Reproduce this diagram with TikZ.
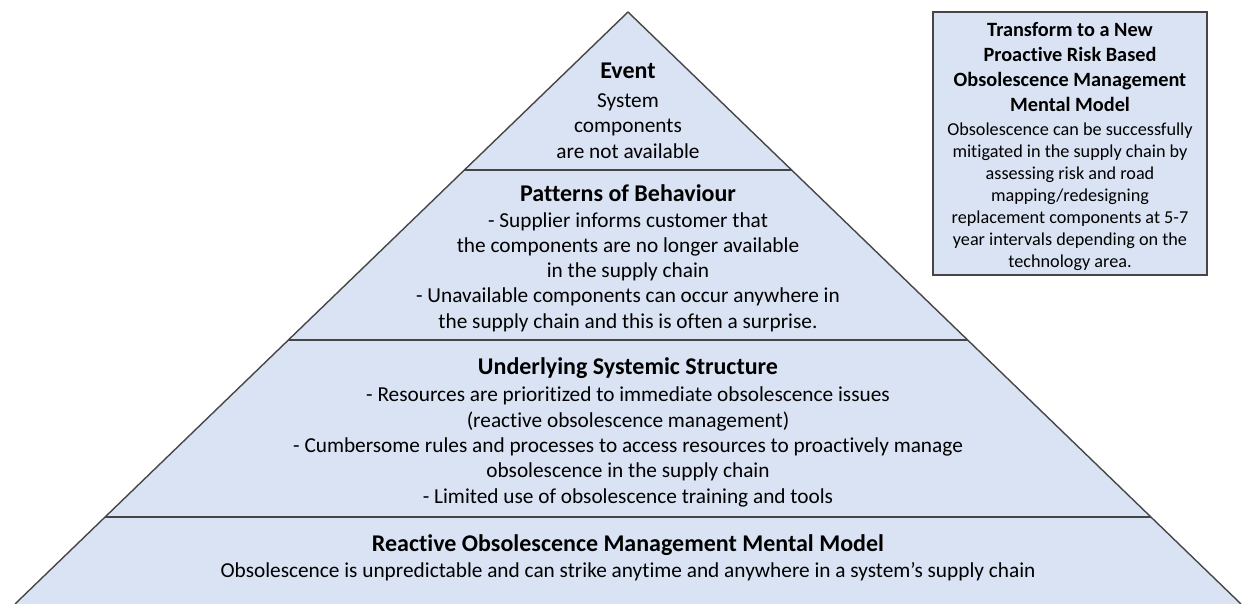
\documentclass[tikz,border=0pt]{standalone}
\usepackage{fontspec}
\setmainfont{Carlito}[Ligatures=NoCommon]
\usetikzlibrary{positioning}
\definecolor{tierfill}{RGB}{218,227,243}
\definecolor{tierline}{RGB}{70,70,70}
\tikzset{tier title/.style={inner sep=0pt, font=\fontsize{24}{27}\selectfont\bfseries}}
\tikzset{tier text/.style={inner sep=0pt, align=center, font=\fontsize{21.3}{25.3}\selectfont}}
\tikzset{box text/.style={inner sep=0pt, align=center, font=\fontsize{18.2}{22}\selectfont}}
\tikzset{box title/.style={inner sep=0pt, align=center, font=\fontsize{20.3}{25}\selectfont\bfseries}}

\begin{document}
\begin{tikzpicture}[x=1pt, y=-1pt]
\useasboundingbox (0,0) rectangle (1243,604);
% pyramid outline
\coordinate (apex) at (628,12);
\coordinate (baseL) at (15,604);
\coordinate (baseR) at (1241,604);
\fill[tierfill] (apex) -- (baseL) -- (baseR) -- cycle;
\draw[tierline, line width=1.4pt, line join=round] (baseL) -- (apex) -- (baseR);
% tier dividers
\coordinate (d1L) at (464,170); \coordinate (d1R) at (792,170);
\coordinate (d2L) at (288,340); \coordinate (d2R) at (968,340);
\coordinate (d3L) at (105,517); \coordinate (d3R) at (1151,517);
\draw[tierline, line width=1.6pt] (d1L) -- (d1R);
\draw[tierline, line width=1.6pt] (d2L) -- (d2R);
\draw[tierline, line width=1.6pt] (d3L) -- (d3R);

% tier 1
\node[tier title] (event) at (628,71) {Event};
\node[tier text] (eventtext) at (628,126) {System\\components\\are not available};
% tier 2
\node[tier title] (patterns) at (628,193) {Patterns of Behaviour};
\node[tier text] (patternstext) at (628,272) {- Supplier informs customer that\\the components are no longer available\\in the supply chain\\- Unavailable components can occur anywhere in\\the supply chain and this is often a surprise.};
% tier 3
\node[tier title] (structure) at (628,368) {Underlying Systemic Structure};
\node[tier text] (structuretext) at (628,447) {- Resources are prioritized to immediate obsolescence issues\\(reactive obsolescence management)\\- Cumbersome rules and processes to access resources to proactively manage\\obsolescence in the supply chain\\- Limited use of obsolescence training and tools};
% tier 4
\node[tier title] (model) at (628,545) {Reactive Obsolescence Management Mental Model};
\node[tier text] (modeltext) at (628,572) {Obsolescence is unpredictable and can strike anytime and anywhere in a system’s supply chain};

% new mental model box
\coordinate (boxTL) at (933,12);
\coordinate (boxBR) at (1207,275);
\draw[tierline, fill=tierfill, line width=1.4pt] (boxTL) rectangle (boxBR);
\node[box title] (newmodel) at (1070,67) {Transform to a New\\Proactive Risk Based\\Obsolescence Management\\Mental Model};
\node[box text] (newmodeltext) at (1070,197) {Obsolescence can be successfully\\mitigated in the supply chain by\\assessing risk and road\\mapping/redesigning\\replacement components at 5-7\\year intervals depending on the\\technology area.};
\end{tikzpicture}
\end{document}
